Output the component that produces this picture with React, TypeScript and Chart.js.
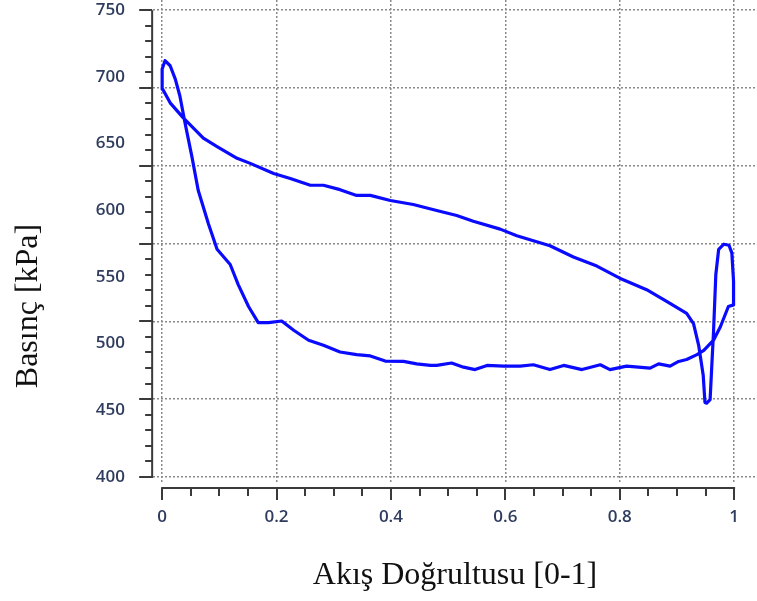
import React, { useEffect, useRef } from "react";
import { Chart, registerables } from "chart.js";

Chart.register(...registerables);

// Closed pressure loop along the flow direction (leading-edge loop → lower side → trailing edge → upper side)
const flowPosition = [
  0.005, 0.014, 0.023, 0.031, 0.04, 0.052, 0.063, 0.081, 0.096, 0.119, 0.133, 0.151, 0.168, 0.186,
  0.209, 0.23, 0.256, 0.282, 0.311, 0.34, 0.364, 0.39, 0.422, 0.445, 0.469, 0.48, 0.506, 0.527,
  0.547, 0.568, 0.597, 0.626, 0.649, 0.678, 0.702, 0.734, 0.766, 0.783, 0.812, 0.853, 0.868, 0.888,
  0.903, 0.917, 0.935, 0.947, 0.964, 0.976, 0.99, 0.999, 0.999, 0.996, 0.991, 0.982, 0.973, 0.968,
  0.964, 0.961, 0.958, 0.952, 0.949, 0.946, 0.938, 0.929, 0.917, 0.882, 0.847, 0.8, 0.76, 0.719,
  0.678, 0.62, 0.591, 0.544, 0.515, 0.48, 0.439, 0.399, 0.364, 0.34, 0.311, 0.282, 0.259, 0.224,
  0.195, 0.154, 0.131, 0.096, 0.072, 0.037, 0.014, 0.001, 0.0, 0.0, 0.005,
];
const pressureKPa = [
  712.1, 708.3, 698.3, 685.6, 665.4, 640.2, 614.9, 589.6, 570.7, 559.3, 544.2, 527.8, 515.7, 515.7,
  516.9, 510.0, 502.5, 498.7, 493.7, 491.7, 490.7, 486.9, 486.6, 484.8, 483.6, 483.6, 485.4, 482.3,
  480.5, 483.6, 483.1, 483.1, 484.1, 480.5, 483.6, 480.5, 484.1, 480.5, 483.1, 481.6, 484.8, 483.1,
  486.6, 488.1, 491.7, 494.9, 502.5, 512.6, 527.8, 529.0, 546.7, 568.0, 573.7, 574.5, 570.7, 551.8,
  508.9, 483.6, 458.0, 455.3, 455.8, 476.0, 498.7, 515.0, 522.7, 531.6, 540.4, 549.0, 558.1, 564.9,
  573.3, 580.8, 585.8, 591.7, 596.0, 599.8, 604.3, 607.3, 611.1, 611.1, 615.4, 618.7, 618.7, 623.7,
  627.5, 635.1, 638.9, 647.7, 654.0, 669.2, 680.5, 690.7, 698.3, 705.8, 712.1,
];

const xTickValues = [0, 0.2, 0.4, 0.6, 0.8, 1];
const yTickValues = [400, 450, 500, 550, 600, 650, 700, 750];
// grid lines split 400–750 into six equal parts (independent of the labels, as in the original)
const yGridValues = [400, 458.33, 516.67, 575, 633.33, 691.67, 750];

const X_MIN = -0.016;
const X_MAX = 1.04;
const Y_MIN = 396.2;
const Y_MAX = 757.6;

const AXIS_COLOR = "#3a3a3a";
const GRID_COLOR = "#8a8a8a";
const LABEL_COLOR = "#2f3c5e";

const framePlugin = {
  id: "frame",
  afterDraw(chart: any) {
    const { ctx } = chart;
    const xs = chart.scales.x;
    const ys = chart.scales.yGrid;
    const x0 = xs.getPixelForValue(xTickValues[0]);
    const x1 = xs.getPixelForValue(xTickValues[xTickValues.length - 1]);
    const yTop = ys.getPixelForValue(yGridValues[yGridValues.length - 1]);
    const yBot = ys.getPixelForValue(yGridValues[0]);
    const axisX = x0 - 10;
    const axisY = yBot + 11;

    ctx.save();
    ctx.strokeStyle = AXIS_COLOR;
    ctx.lineWidth = 2;
    ctx.lineCap = "butt";

    // y axis line + ticks
    ctx.beginPath();
    ctx.moveTo(axisX, yTop);
    ctx.lineTo(axisX, yBot + 1);
    ctx.stroke();
    for (let i = 0; i < yGridValues.length; i++) {
      const py = Math.round(ys.getPixelForValue(yGridValues[i]));
      ctx.beginPath();
      ctx.moveTo(axisX - 13, py);
      ctx.lineTo(axisX, py);
      ctx.stroke();
      if (i < yGridValues.length - 1) {
        const a = yGridValues[i];
        const b = yGridValues[i + 1];
        for (let k = 1; k < 5; k++) {
          const pm = Math.round(ys.getPixelForValue(a + ((b - a) * k) / 5));
          ctx.beginPath();
          ctx.moveTo(axisX - 7, pm);
          ctx.lineTo(axisX, pm);
          ctx.stroke();
        }
      }
    }

    // x axis line + ticks
    ctx.beginPath();
    ctx.moveTo(x0 - 1, axisY);
    ctx.lineTo(x1 + 1, axisY);
    ctx.stroke();
    for (let i = 0; i < xTickValues.length; i++) {
      const px = Math.round(xs.getPixelForValue(xTickValues[i]));
      ctx.beginPath();
      ctx.moveTo(px, axisY);
      ctx.lineTo(px, axisY + 12);
      ctx.stroke();
      if (i < xTickValues.length - 1) {
        const a = xTickValues[i];
        const b = xTickValues[i + 1];
        for (let k = 1; k < 4; k++) {
          const pm = Math.round(xs.getPixelForValue(a + ((b - a) * k) / 4));
          ctx.beginPath();
          ctx.moveTo(pm, axisY);
          ctx.lineTo(pm, axisY + 8);
          ctx.stroke();
        }
      }
    }

    // y axis title
    ctx.translate(29, 306);
    ctx.rotate(-Math.PI / 2);
    ctx.fillStyle = "#111111";
    ctx.font = '32px "Liberation Serif"';
    ctx.textAlign = "center";
    ctx.textBaseline = "middle";
    ctx.fillText("Basınç [kPa]", 0, 0);
    ctx.restore();
  },
};

const tickFont = { family: '"Open Sans"', size: 17, weight: 600 as any };

export default function App() {
  const canvasRef = useRef<HTMLCanvasElement | null>(null);

  useEffect(() => {
    const canvas = canvasRef.current;
    if (!canvas) return;
    const points = flowPosition.map((x, i) => ({ x, y: pressureKPa[i] }));
    const chart = new Chart(canvas, {
      type: "scatter",
      data: {
        datasets: [
          {
            data: points,
            showLine: true,
            borderColor: "#0a0aff",
            borderWidth: 3.2,
            pointRadius: 0,
            pointHoverRadius: 0,
            tension: 0,
            fill: false,
            borderJoinStyle: "round",
            borderCapStyle: "round",
          } as any,
        ],
      },
      options: {
        responsive: false,
        animation: false,
        devicePixelRatio: 1,
        layout: { padding: 0 },
        plugins: { legend: { display: false }, tooltip: { enabled: false } },
        scales: {
          x: {
            type: "linear",
            position: "bottom",
            min: X_MIN,
            max: X_MAX,
            afterBuildTicks: (s: any) => {
              s.ticks = xTickValues.map((v) => ({ value: v }));
            },
            afterFit: (s: any) => {
              s.height = 119;
              s.paddingLeft = 0;
              s.paddingRight = 0;
            },
            grid: { color: GRID_COLOR, lineWidth: 1.5, drawTicks: false },
            border: { display: false, dash: [2, 2] },
            ticks: {
              autoSkip: false,
              maxRotation: 0,
              padding: 25,
              color: LABEL_COLOR,
              font: tickFont,
              callback: (v: any) => String(v),
            },
            title: {
              display: true,
              text: "Akış Doğrultusu [0-1]",
              color: "#111111",
              font: { family: '"Liberation Serif"', size: 32 },
              padding: { top: 0, bottom: 6 },
            },
          },
          y: {
            type: "linear",
            position: "left",
            min: Y_MIN,
            max: Y_MAX,
            afterBuildTicks: (s: any) => {
              s.ticks = yTickValues.map((v) => ({ value: v }));
            },
            afterFit: (s: any) => {
              s.width = 153;
              s.paddingTop = 0;
              s.paddingBottom = 0;
            },
            grid: { display: false, drawTicks: false },
            border: { display: false },
            ticks: {
              autoSkip: false,
              padding: 28,
              color: LABEL_COLOR,
              font: tickFont,
              callback: (v: any) => String(v),
            },
          },
          yGrid: {
            type: "linear",
            position: "right",
            min: Y_MIN,
            max: Y_MAX,
            afterBuildTicks: (s: any) => {
              s.ticks = yGridValues.map((v) => ({ value: v }));
            },
            afterFit: (s: any) => {
              s.width = 0;
              s.paddingTop = 0;
              s.paddingBottom = 0;
            },
            grid: { color: GRID_COLOR, lineWidth: 1.5, drawTicks: false },
            border: { display: false, dash: [2, 2] },
            ticks: { display: false },
          },
        },
      } as any,
      plugins: [framePlugin],
    });
    return () => chart.destroy();
  }, []);

  return (
    <div style={{ position: "absolute", left: 0, top: 0, width: 757, height: 601, background: "#ffffff" }}>
      <canvas ref={canvasRef} width={757} height={601} style={{ display: "block" }} />
    </div>
  );
}
